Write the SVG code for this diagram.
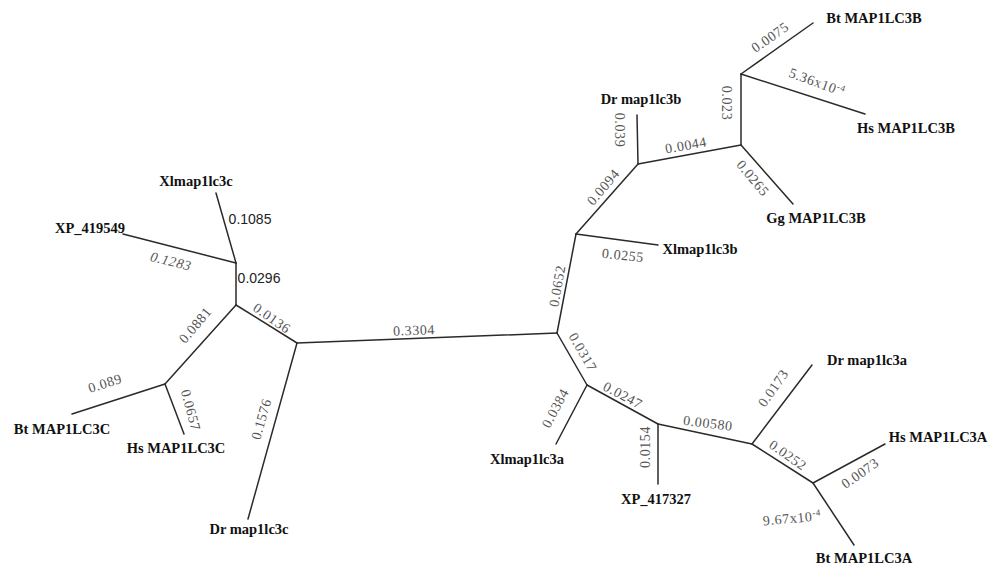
<svg xmlns="http://www.w3.org/2000/svg" width="995" height="567" viewBox="0 0 995 567">
<style>
.e{stroke:#2a2a2a;stroke-width:1.5;fill:none;stroke-linecap:round}
.leaf{font-family:'Liberation Serif','Times New Roman','DejaVu Serif',serif;font-weight:bold;font-size:14.5px;fill:#111;text-anchor:middle}
.w{font-family:'Liberation Serif','Times New Roman','DejaVu Serif',serif;font-size:14px;fill:#555;text-anchor:middle;letter-spacing:0.6px}
.s{font-family:'Liberation Sans',Arial,sans-serif;font-size:14px;fill:#222;text-anchor:middle}
</style>
<rect width="995" height="567" fill="#fff"/>
<g id="connectors">
<path class="e" d="M297,343 L557,333"/>
<path class="e" d="M297,343 L236,305"/>
<path class="e" d="M297,343 L248,519"/>
<path class="e" d="M236,305 L236,263"/>
<path class="e" d="M236,263 L216,193"/>
<path class="e" d="M236,263 L123,234"/>
<path class="e" d="M236,305 L165,384"/>
<path class="e" d="M165,384 L72,414"/>
<path class="e" d="M165,384 L184,434"/>
<path class="e" d="M557,333 L576,234"/>
<path class="e" d="M576,234 L658,245"/>
<path class="e" d="M576,234 L638,164"/>
<path class="e" d="M638,164 L637,115"/>
<path class="e" d="M638,164 L741,145"/>
<path class="e" d="M741,145 L741,74"/>
<path class="e" d="M741,74 L813,23"/>
<path class="e" d="M741,74 L865,114"/>
<path class="e" d="M741,145 L793,204"/>
<path class="e" d="M557,333 L587,385"/>
<path class="e" d="M587,385 L556,444"/>
<path class="e" d="M587,385 L658,424"/>
<path class="e" d="M658,424 L658,484"/>
<path class="e" d="M658,424 L752,444"/>
<path class="e" d="M752,444 L812,365"/>
<path class="e" d="M752,444 L813,483"/>
<path class="e" d="M813,483 L885,444"/>
<path class="e" d="M813,483 L854,545"/>
</g>
<g id="edge-labels">
<text class="w" transform="translate(414,330) rotate(-2)" dy="0.35em">0.3304</text>
<text class="w" transform="translate(272,318) rotate(35)" dy="0.35em">0.0136</text>
<text class="w" transform="translate(261,419) rotate(-74)" dy="0.35em">0.1576</text>
<text class="s" transform="translate(259,278)" dy="0.35em">0.0296</text>
<text class="s" transform="translate(250,219)" dy="0.35em">0.1085</text>
<text class="w" font-style="italic" transform="translate(171,261) rotate(14)" dy="0.35em">0.1283</text>
<text class="w" transform="translate(195,325) rotate(-50)" dy="0.35em">0.0881</text>
<text class="w" transform="translate(105,383) rotate(-18)" dy="0.35em">0.089</text>
<text class="w" transform="translate(191,410) rotate(75)" dy="0.35em">0.0657</text>
<text class="w" transform="translate(557,286) rotate(-80)" dy="0.35em">0.0652</text>
<text class="w" transform="translate(623,255) rotate(6)" dy="0.35em">0.0255</text>
<text class="w" transform="translate(603,187) rotate(-50)" dy="0.35em">0.0094</text>
<text class="w" transform="translate(620,130) rotate(90)" dy="0.35em">0.039</text>
<text class="w" transform="translate(686,145) rotate(-10)" dy="0.35em">0.0044</text>
<text class="w" transform="translate(727,103) rotate(90)" dy="0.35em">0.023</text>
<text class="w" transform="translate(770,37) rotate(-35)" dy="0.35em">0.0075</text>
<text class="w" transform="translate(817,82) rotate(20)" dy="0.35em">5.36x10<tspan font-size="9" dy="-5">-4</tspan></text>
<text class="w" transform="translate(753,178) rotate(50)" dy="0.35em">0.0265</text>
<text class="w" transform="translate(583,352) rotate(60)" dy="0.35em">0.0317</text>
<text class="w" transform="translate(555,408) rotate(-62)" dy="0.35em">0.0384</text>
<text class="w" transform="translate(623,395) rotate(28)" dy="0.35em">0.0247</text>
<text class="w" transform="translate(645,447) rotate(-90)" dy="0.35em">0.0154</text>
<text class="w" transform="translate(708,423) rotate(7)" dy="0.35em">0.00580</text>
<text class="w" transform="translate(773,388) rotate(-55)" dy="0.35em">0.0173</text>
<text class="w" transform="translate(788,455) rotate(35)" dy="0.35em">0.0252</text>
<text class="w" transform="translate(860,473) rotate(-35)" dy="0.35em">0.0073</text>
<text class="w" transform="translate(792,518) rotate(-5)" dy="0.35em">9.67x10<tspan font-size="9" dy="-5">-4</tspan></text>
</g>
<g id="Xl-map1lc3c"><text class="leaf" x="196" y="186">Xlmap1lc3c</text></g>
<g id="XP_419549"><text class="leaf" x="90" y="233">XP_419549</text></g>
<g id="Bt-MAP1LC3C"><text class="leaf" x="62" y="434">Bt MAP1LC3C</text></g>
<g id="Hs-MAP1LC3C"><text class="leaf" x="176" y="453">Hs MAP1LC3C</text></g>
<g id="Dr-map1lc3c"><text class="leaf" x="249" y="534">Dr map1lc3c</text></g>
<g id="Dr-map1lc3b"><text class="leaf" x="641" y="104">Dr map1lc3b</text></g>
<g id="Bt-MAP1LC3B"><text class="leaf" x="874" y="23">Bt MAP1LC3B</text></g>
<g id="Hs-MAP1LC3B"><text class="leaf" x="906" y="133">Hs MAP1LC3B</text></g>
<g id="Gg-MAP1LC3B"><text class="leaf" x="816" y="223">Gg MAP1LC3B</text></g>
<g id="Xl-map1lc3b"><text class="leaf" x="700" y="254">Xlmap1lc3b</text></g>
<g id="Xl-map1lc3a"><text class="leaf" x="527" y="464">Xlmap1lc3a</text></g>
<g id="XP_417327"><text class="leaf" x="656" y="504">XP_417327</text></g>
<g id="Dr-map1lc3a"><text class="leaf" x="867" y="365">Dr map1lc3a</text></g>
<g id="Hs-MAP1LC3A"><text class="leaf" x="938" y="442">Hs MAP1LC3A</text></g>
<g id="Bt-MAP1LC3A"><text class="leaf" x="864" y="563">Bt MAP1LC3A</text></g>
</svg>
